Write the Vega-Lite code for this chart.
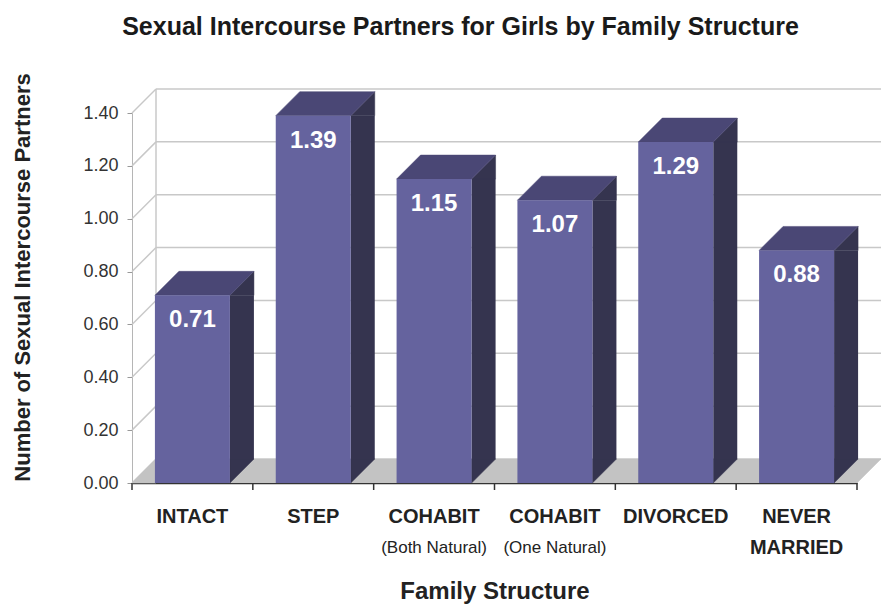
{
  "$schema": "https://vega.github.io/schema/vega-lite/v6.json",
  "width": 725,
  "height": 370,
  "autosize": {"type": "none"},
  "padding": {"left": 132, "top": 113, "right": 29, "bottom": 127},
  "background": "white",
  "title": {
    "text": "Sexual Intercourse Partners for Girls by Family Structure",
    "font": "Liberation Sans",
    "fontSize": 25,
    "fontWeight": "bold",
    "color": "#1a1a1a",
    "anchor": "middle",
    "dx": -34,
    "offset": 13,
    "baseline": "alphabetic"
  },
  "datasets": {
    "bars": [
      {"cat": "INTACT", "value": 0.71, "sub": ""},
      {"cat": "STEP", "value": 1.39, "sub": ""},
      {"cat": "COHABIT (Both Natural)", "value": 1.15, "sub": "(Both Natural)"},
      {"cat": "COHABIT (One Natural)", "value": 1.07, "sub": "(One Natural)"},
      {"cat": "DIVORCED", "value": 1.29, "sub": ""},
      {"cat": "NEVER MARRIED", "value": 0.88, "sub": ""}
    ],
    "levels": [
      {"v": 0}, {"v": 0.2}, {"v": 0.4}, {"v": 0.6}, {"v": 0.8}, {"v": 1.0}, {"v": 1.2}, {"v": 1.4}
    ],
    "one": [{"k": 1}]
  },
  "layer": [
    {
      "data": {"name": "levels"},
      "mark": {"type": "rule", "color": "#c8c8c8", "strokeWidth": 1.5, "xOffset": 24, "x2Offset": 24, "yOffset": -24},
      "encoding": {
        "x": {"datum": "INTACT", "type": "nominal", "bandPosition": 0,
          "scale": {"domain": ["INTACT", "STEP", "COHABIT (Both Natural)", "COHABIT (One Natural)", "DIVORCED", "NEVER MARRIED"], "paddingInner": 0, "paddingOuter": 0},
          "axis": {
            "title": "Family Structure", "titleFont": "Liberation Sans", "titleFontSize": 24, "titleFontWeight": "bold", "titleColor": "#222",
            "titleY": 115, "titleBaseline": "alphabetic",
            "labelExpr": "datum.value == 'NEVER MARRIED' ? ['NEVER', 'MARRIED'] : (indexof(datum.value, 'COHABIT') == 0 ? 'COHABIT' : datum.value)",
            "labelFont": "Liberation Sans", "labelFontSize": 20, "labelFontWeight": "bold", "labelColor": "#222",
            "labelAngle": 0, "labelPadding": 23, "labelLineHeight": 31, "labelBaseline": "top",
            "ticks": false, "domainColor": "#333", "domainWidth": 1.5, "grid": false
          }
        },
        "x2": {"datum": "NEVER MARRIED", "bandPosition": 1},
        "y": {"field": "v", "type": "quantitative",
          "scale": {"domain": [0, 1.4], "nice": false},
          "axis": {
            "title": "Number of Sexual Intercourse Partners", "titleFont": "Liberation Sans", "titleFontSize": 22, "titleFontWeight": "bold", "titleColor": "#222",
            "titleX": -110, "titleY": 164, "titleAngle": 270, "titleAlign": "center", "titleBaseline": "middle",
            "values": [0, 0.2, 0.4, 0.6, 0.8, 1.0, 1.2, 1.4], "format": ".2f",
            "labelFont": "Liberation Sans", "labelFontSize": 18, "labelColor": "#333", "labelPadding": 9,
            "tickSize": 5, "tickColor": "#999", "domainColor": "#b5b5b5", "grid": false
          }
        }
      }
    },
    {
      "data": {"name": "levels"},
      "mark": {"type": "rule", "color": "#c8c8c8", "strokeWidth": 1.5, "x2Offset": 24, "y2Offset": -24},
      "encoding": {
        "x": {"datum": "INTACT", "type": "nominal", "bandPosition": 0},
        "x2": {"datum": "INTACT", "bandPosition": 0},
        "y": {"field": "v", "type": "quantitative"},
        "y2": {"field": "v"}
      }
    },
    {
      "data": {"name": "one"},
      "mark": {"type": "rule", "color": "#c8c8c8", "strokeWidth": 1.5, "xOffset": 24, "yOffset": -24, "y2Offset": -24},
      "encoding": {
        "x": {"datum": "INTACT", "type": "nominal", "bandPosition": 0},
        "y": {"datum": 0, "type": "quantitative"},
        "y2": {"datum": 1.4}
      }
    },
    {
      "data": {"name": "one"},
      "mark": {"type": "rect", "color": "#c3c3c3", "xOffset": 24, "yOffset": -24},
      "encoding": {
        "x": {"datum": "INTACT", "type": "nominal", "bandPosition": 0},
        "x2": {"datum": "NEVER MARRIED", "bandPosition": 1},
        "y": {"datum": 0, "type": "quantitative"},
        "y2": {"datum": 0}
      }
    },
    {
      "data": {"name": "one"},
      "mark": {"type": "point", "shape": "M0,0L24,-24L24,0Z", "size": 4, "filled": true, "opacity": 1, "color": "#c3c3c3", "stroke": "#c3c3c3", "strokeWidth": 0.5},
      "encoding": {
        "x": {"datum": "INTACT", "type": "nominal", "bandPosition": 0},
        "y": {"datum": 0, "type": "quantitative"}
      }
    },
    {
      "data": {"name": "one"},
      "mark": {"type": "point", "shape": "M0,0L0,-24L24,-24Z", "size": 4, "filled": true, "opacity": 1, "color": "#c3c3c3", "stroke": "#c3c3c3", "strokeWidth": 0.5},
      "encoding": {
        "x": {"datum": "NEVER MARRIED", "type": "nominal", "bandPosition": 1},
        "y": {"datum": 0, "type": "quantitative"}
      }
    },
    {
      "data": {"name": "bars"},
      "mark": {"type": "point", "shape": "M37.5,0L37.5,-24L61.5,-24Z", "size": 4, "filled": true, "opacity": 1, "color": "#35344f", "stroke": "#35344f", "strokeWidth": 0.5},
      "encoding": {
        "x": {"field": "cat", "type": "nominal"},
        "y": {"datum": 0, "type": "quantitative"}
      }
    },
    {
      "data": {"name": "bars"},
      "mark": {"type": "bar", "color": "#35344f", "width": 24, "xOffset": 49.5, "y2Offset": -24},
      "encoding": {
        "x": {"field": "cat", "type": "nominal"},
        "y": {"field": "value", "type": "quantitative"},
        "y2": {"datum": 0}
      }
    },
    {
      "data": {"name": "bars"},
      "mark": {"type": "point", "shape": "M37.5,0L61.5,-24L61.5,0Z", "size": 4, "filled": true, "opacity": 1, "color": "#35344f", "stroke": "#35344f", "strokeWidth": 0.5},
      "encoding": {
        "x": {"field": "cat", "type": "nominal"},
        "y": {"field": "value", "type": "quantitative"}
      }
    },
    {
      "data": {"name": "bars"},
      "mark": {"type": "point", "shape": "M-37.5,0L37.5,0L61.5,-24L-13.5,-24Z", "size": 4, "filled": true, "opacity": 1, "color": "#4a4775", "stroke": "#4a4775", "strokeWidth": 0.5},
      "encoding": {
        "x": {"field": "cat", "type": "nominal"},
        "y": {"field": "value", "type": "quantitative"}
      }
    },
    {
      "data": {"name": "bars"},
      "mark": {"type": "bar", "color": "#65639e", "width": 75},
      "encoding": {
        "x": {"field": "cat", "type": "nominal"},
        "y": {"field": "value", "type": "quantitative"}
      }
    },
    {
      "data": {"name": "bars"},
      "mark": {"type": "text", "color": "white", "font": "Liberation Sans", "fontSize": 24, "fontWeight": "bold", "baseline": "middle", "dy": 25},
      "encoding": {
        "x": {"field": "cat", "type": "nominal"},
        "y": {"field": "value", "type": "quantitative"},
        "text": {"field": "value", "type": "quantitative", "format": ".2f"}
      }
    },
    {
      "data": {"name": "bars"},
      "mark": {"type": "text", "color": "#222", "font": "Liberation Sans", "fontSize": 17, "baseline": "middle", "dy": 65},
      "encoding": {
        "x": {"field": "cat", "type": "nominal"},
        "y": {"datum": 0, "type": "quantitative"},
        "text": {"field": "sub", "type": "nominal"}
      }
    },
    {
      "data": {"name": "bars"},
      "mark": {"type": "rule", "color": "#333", "strokeWidth": 1.5, "y2Offset": 7},
      "encoding": {
        "x": {"field": "cat", "type": "nominal", "bandPosition": 0},
        "y": {"datum": 0, "type": "quantitative"},
        "y2": {"datum": 0}
      }
    },
    {
      "data": {"name": "one"},
      "mark": {"type": "rule", "color": "#333", "strokeWidth": 1.5, "y2Offset": 7},
      "encoding": {
        "x": {"datum": "NEVER MARRIED", "type": "nominal", "bandPosition": 1},
        "y": {"datum": 0, "type": "quantitative"},
        "y2": {"datum": 0}
      }
    }
  ],
  "config": {
    "view": {"stroke": null},
    "axis": {"grid": false}
  }
}
